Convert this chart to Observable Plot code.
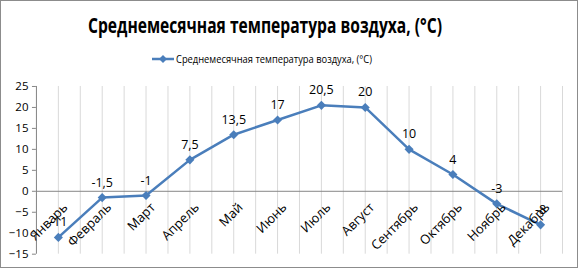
<!DOCTYPE html>
<html><head><meta charset="utf-8">
<script src="https://cdn.jsdelivr.net/npm/d3@7"></script>
<script src="https://cdn.jsdelivr.net/npm/@observablehq/plot@0.6"></script>
<style>
body{margin:0;background:#fff;}
#wrap{position:relative;width:578px;height:268px;box-sizing:border-box;border:1px solid #8c8c8c;overflow:hidden;background:#fff;}
#head{position:absolute;left:-1px;top:-1px;}
#chart{position:absolute;left:-1px;top:74px;}
#chart [aria-label^="y-axis"] line, #chart [aria-label="y-axis tick"] path{stroke:#868686;}
#chart [aria-label^="y-axis"] path.domain{display:none;}
</style></head><body>
<div id="wrap">
<svg id="head" width="578" height="75"></svg>
<div id="chart"></div>
</div>
<script>
const months = ["Январь","Февраль","Март","Апрель","Май","Июнь","Июль","Август","Сентябрь","Октябрь","Ноябрь","Декабрь"];
const temps = [-11, -1.5, -1, 7.5, 13.5, 17, 20.5, 20, 10, 4, -3, -8];
const valueLabels = ["-11","-1,5","-1","7,5","13,5","17","20,5","20","10","4","-3","-8"];
const yTicks = [-15, -10, -5, 0, 5, 10, 15, 20, 25];
const titleText = "Среднемесячная температура воздуха, (°C)";
const seriesName = "Среднемесячная температура воздуха, (°C)";

const blue = "#4a7ebb";
const font = "'Open Sans', sans-serif";

const data = months.map((m, i) => ({i, month: m, t: temps[i], label: valueLabels[i]}));
const gridX = d3.range(-0.5, months.length, 0.5);

// Header: title + legend
const head = d3.select("#head");
head.append("text").attr("x", 265).attr("y", 33).attr("text-anchor", "middle")
  .attr("font-family", font).attr("font-weight", "bold").attr("font-size", 21)
  .attr("textLength", 354).attr("lengthAdjust", "spacingAndGlyphs")
  .attr("fill", "#000").text(titleText);
const lg = head.append("g").attr("transform", "translate(152,59)");
lg.append("line").attr("x1", 0).attr("x2", 22).attr("stroke", blue).attr("stroke-width", 2.5);
lg.append("path").attr("d", d3.symbol(d3.symbolDiamond2, 40)()).attr("transform", "translate(11,0)").attr("fill", blue);
lg.append("text").attr("x", 24).attr("y", 4).attr("font-family", font).attr("font-size", 11.5)
  .attr("textLength", 196).attr("lengthAdjust", "spacingAndGlyphs").attr("fill", "#000").text(seriesName);

const chart = Plot.plot({
  width: 578,
  height: 194,
  marginLeft: 36,
  marginRight: 15,
  marginTop: 11,
  marginBottom: 15,
  style: {fontFamily: font, fontSize: "11.5px", color: "#000", background: "transparent"},
  x: {type: "linear", domain: [-0.5, months.length - 0.5], axis: null},
  y: {domain: [-15, 25], ticks: yTicks, tickSize: 4, tickPadding: 4, label: null},
  marks: [
    Plot.ruleX(gridX, {y1: -15, y2: 25, stroke: "#d9d9d9", strokeWidth: 1}),
    Plot.ruleX([-0.5], {y1: -15, y2: 25, stroke: "#868686"}),
    Plot.ruleY([0], {x1: -0.5, x2: months.length - 0.5, stroke: "#868686"}),
    Plot.line(data, {x: "i", y: "t", stroke: blue, strokeWidth: 2.5}),
    Plot.dot(data, {x: "i", y: "t", symbol: "diamond2", r: 4.1, fill: blue, stroke: "none"}),
    Plot.text(data, {x: "i", y: "t", text: "label", dy: -15, fill: "#000", fontSize: 12.5}),
    Plot.text(data, {x: "i", y: d => 0, text: "month", rotate: -45, textAnchor: "end", dx: 7, dy: 14, fill: "#000", fontSize: 13})
  ]
});
document.getElementById("chart").appendChild(chart);
</script>
</body></html>
